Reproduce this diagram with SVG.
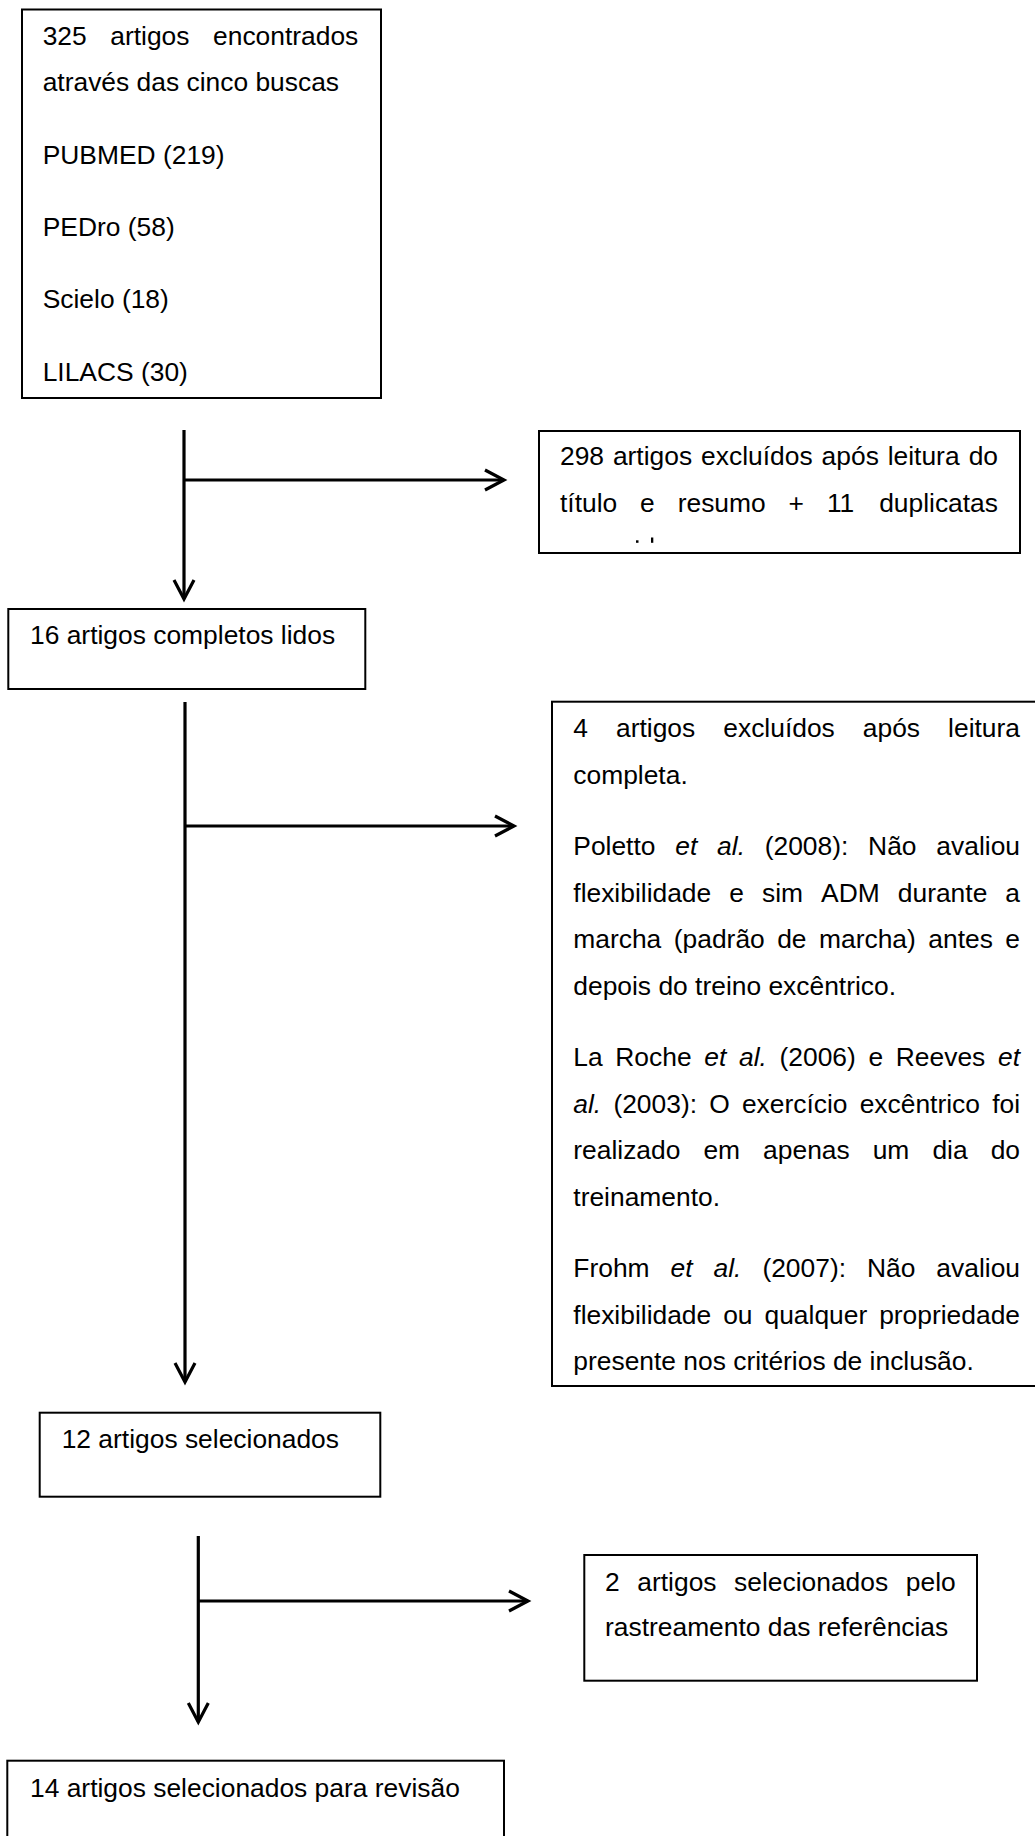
<svg xmlns="http://www.w3.org/2000/svg" width="1035" height="1836" viewBox="0 0 1035 1836">
<style>
.box{fill:#fff;stroke:#000;stroke-width:2}
.t{font-family:"Liberation Sans",Arial,sans-serif;font-size:26.4px;fill:#000}
.i{font-style:italic}
.c{fill:none;stroke:#000;stroke-width:3.2}
</style>
<defs>
<marker id="arr" markerWidth="30" markerHeight="30" viewBox="-25 -15 30 30" refX="0" refY="0" orient="auto" markerUnits="userSpaceOnUse">
<path d="M-19,-10 L0,0 L-19,10" fill="none" stroke="#000" stroke-width="3.2"/>
</marker>
</defs>
<rect width="1035" height="1836" fill="#fff"/>

<g id="connectors">
<line class="c" x1="184" y1="430" x2="184" y2="599" marker-end="url(#arr)"/>
<line class="c" x1="184" y1="480" x2="504" y2="480" marker-end="url(#arr)"/>
<line class="c" x1="185" y1="702" x2="185" y2="1382" marker-end="url(#arr)"/>
<line class="c" x1="185" y1="826" x2="514" y2="826" marker-end="url(#arr)"/>
<line class="c" x1="198.3" y1="1536" x2="198.3" y2="1722" marker-end="url(#arr)"/>
<line class="c" x1="198.3" y1="1601" x2="528" y2="1601" marker-end="url(#arr)"/>
</g>

<g id="node-busca">
<rect class="box" x="22" y="9.5" width="359" height="388.5"/>
<text class="t" y="45"><tspan x="42.7">325</tspan><tspan x="110.25">artigos</tspan><tspan x="358.3" text-anchor="end">encontrados</tspan></text>
<text class="t" x="42.7" y="91">através das cinco buscas</text>
<text class="t" x="42.7" y="163.5">PUBMED (219)</text>
<text class="t" x="42.7" y="236">PEDro (58)</text>
<text class="t" x="42.7" y="308">Scielo (18)</text>
<text class="t" x="42.7" y="380.5">LILACS (30)</text>
</g>

<g id="node-excluidos298">
<rect class="box" x="539" y="431" width="481" height="122"/>
<text class="t" y="465"><tspan x="560">298</tspan><tspan x="612.9">artigos</tspan><tspan x="701.1">excluídos</tspan><tspan x="821.6">após</tspan><tspan x="887.7">leitura</tspan><tspan x="998" text-anchor="end">do</tspan></text>
<text class="t" y="511.5"><tspan x="560">título</tspan><tspan x="640.1">e</tspan><tspan x="677.7">resumo</tspan><tspan x="788.6">+</tspan><tspan x="826.9">11</tspan><tspan x="998" text-anchor="end">duplicatas</tspan></text>
<rect x="636" y="540.3" width="2.5" height="2.5" fill="#000"/>
<rect x="651" y="537.5" width="2.3" height="5.3" fill="#000"/>
</g>

<g id="node-lidos16">
<rect class="box" x="8.3" y="609" width="357" height="80"/>
<text class="t" x="30" y="644.3">16 artigos completos lidos</text>
</g>

<g id="node-excluidos4">
<rect class="box" x="552" y="701.7" width="495" height="684.3"/>
<text class="t" y="737"><tspan x="573.3">4</tspan><tspan x="616">artigos</tspan><tspan x="723.3">excluídos</tspan><tspan x="862.8">após</tspan><tspan x="1020" text-anchor="end">leitura</tspan></text>
<text class="t" x="573.3" y="783.5">completa.</text>
<text class="t" y="855"><tspan x="573.3">Poletto</tspan><tspan class="i" x="675.3">et</tspan><tspan class="i" x="717.1">al.</tspan><tspan x="764.7">(2008):</tspan><tspan x="868.1">Não</tspan><tspan x="1020" text-anchor="end">avaliou</tspan></text>
<text class="t" y="901.5"><tspan x="573.3">flexibilidade</tspan><tspan x="729.3">e</tspan><tspan x="762">sim</tspan><tspan x="821.1">ADM</tspan><tspan x="897.8">durante</tspan><tspan x="1020" text-anchor="end">a</tspan></text>
<text class="t" y="948"><tspan x="573.3">marcha</tspan><tspan x="673.8">(padrão</tspan><tspan x="777.2">de</tspan><tspan x="819">marcha)</tspan><tspan x="928.3">antes</tspan><tspan x="1020" text-anchor="end">e</tspan></text>
<text class="t" x="573.3" y="994.5">depois do treino excêntrico.</text>
<text class="t" y="1066"><tspan x="573.3">La</tspan><tspan x="615.3">Roche</tspan><tspan class="i" x="704.3">et</tspan><tspan class="i" x="739">al.</tspan><tspan x="779.5">(2006)</tspan><tspan x="868.5">e</tspan><tspan x="895.8">Reeves</tspan><tspan class="i" x="1020" text-anchor="end">et</tspan></text>
<text class="t" y="1112.5"><tspan class="i" x="573.3">al.</tspan><tspan x="613.4">(2003):</tspan><tspan x="709.2">O</tspan><tspan x="741.9">exercício</tspan><tspan x="859.7">excêntrico</tspan><tspan x="1020" text-anchor="end">foi</tspan></text>
<text class="t" y="1159"><tspan x="573.3">realizado</tspan><tspan x="703.4">em</tspan><tspan x="763.1">apenas</tspan><tspan x="872.7">um</tspan><tspan x="932.4">dia</tspan><tspan x="1020" text-anchor="end">do</tspan></text>
<text class="t" x="573.3" y="1205.5">treinamento.</text>
<text class="t" y="1277"><tspan x="573.3">Frohm</tspan><tspan class="i" x="670.5">et</tspan><tspan class="i" x="713.5">al.</tspan><tspan x="762.4">(2007):</tspan><tspan x="867">Não</tspan><tspan x="1020" text-anchor="end">avaliou</tspan></text>
<text class="t" y="1323.5"><tspan x="573.3">flexibilidade</tspan><tspan x="723.2">ou</tspan><tspan x="764.5">qualquer</tspan><tspan x="1020" text-anchor="end">propriedade</tspan></text>
<text class="t" x="573.3" y="1370">presente nos critérios de inclusão.</text>
</g>

<g id="node-selecionados12">
<rect class="box" x="39.7" y="1412.7" width="340.6" height="84"/>
<text class="t" x="61.7" y="1448.3">12 artigos selecionados</text>
</g>

<g id="node-rastreamento2">
<rect class="box" x="584.3" y="1555" width="392.7" height="125.7"/>
<text class="t" y="1590.7"><tspan x="605">2</tspan><tspan x="637.3">artigos</tspan><tspan x="734.1">selecionados</tspan><tspan x="955.7" text-anchor="end">pelo</tspan></text>
<text class="t" x="605" y="1636">rastreamento das referências</text>
</g>

<g id="node-revisao14">
<rect class="box" x="7.3" y="1760.7" width="496.7" height="100"/>
<text class="t" x="30" y="1796.7">14 artigos selecionados para revisão</text>
</g>
</svg>
